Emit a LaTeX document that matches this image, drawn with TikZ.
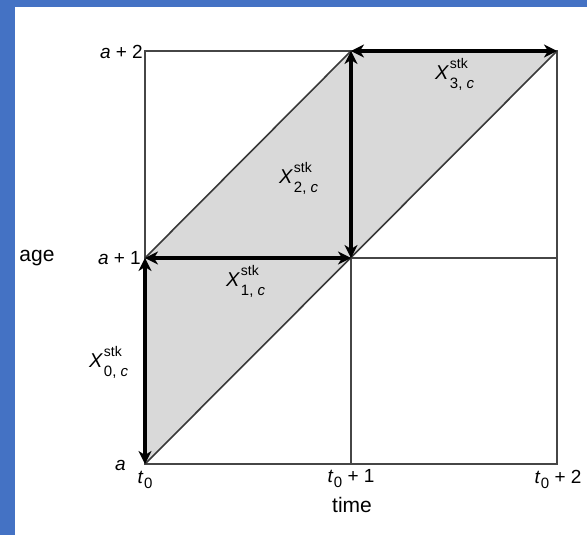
\documentclass[tikz,border=0pt]{standalone}
\usepackage{fontspec}
\setmainfont{Liberation Sans}
\usetikzlibrary{arrows.meta}
\definecolor{frameblue}{RGB}{68,114,196}
\definecolor{regiongray}{RGB}{217,217,217}
\definecolor{gridline}{RGB}{70,70,70}
\newcommand{\xstk}[1]{\textit{X}\kern0.8pt\rlap{\raisebox{11pt}{\fontsize{14}{14}\selectfont stk}}\raisebox{-9pt}{\fontsize{15}{15}\selectfont #1, \textit{c}}}
\newcommand{\tsub}[1]{\textit{t}\kern0.5pt\raisebox{-5pt}{\fontsize{15}{15}\selectfont #1}}
\begin{document}
\begin{tikzpicture}[x=1pt,y=-1pt,
  thin line/.style={draw=gridline,line width=1.8pt},
  diag line/.style={draw=gridline!80!black,line width=1.6pt},
  thick arrow/.style={draw=black,line width=3.2pt,{Stealth[length=13pt,width=13pt,inset=4pt]}-{Stealth[length=13pt,width=13pt,inset=4pt]}},
  lab/.style={font=\fontsize{19}{21}\selectfont,inner sep=0pt},
  word/.style={font=\fontsize{21}{23}\selectfont,inner sep=0pt},
  qty/.style={font=\fontsize{20}{22}\selectfont,inner sep=0pt,anchor=base west}]
\useasboundingbox (0,0) rectangle (587,535);
\fill[white] (0,0) rectangle (587,535);
\fill[frameblue] (0,0) rectangle (587,7);
\fill[frameblue] (0,0) rectangle (15,535);
% grid points
\coordinate (A0) at (145,464);
\coordinate (A1) at (145,258);
\coordinate (A2) at (145,51);
\coordinate (B0) at (351,464);
\coordinate (B1) at (351,258);
\coordinate (B2) at (351,51);
\coordinate (C0) at (557,464);
\coordinate (C1) at (557,258);
\coordinate (C2) at (557,51);
% shaded region
\fill[regiongray] (A0) -- (A1) -- (B2) -- (C2) -- cycle;
% grid
\draw[thin line] (A0) rectangle (C2);
\draw[thin line] (A1) -- (C1);
\draw[thin line] (B0) -- (B2);
% diagonals
\draw[diag line] (A0) -- (C2);
\draw[diag line] (A1) -- (B2);
% arrows
\draw[thick arrow] (A0) -- (A1);
\draw[thick arrow] (A1) -- (B1);
\draw[thick arrow] (B1) -- (B2);
\draw[thick arrow] (B2) -- (C2);
% axis labels
\node[lab,anchor=east] (la2) at (143,52) {\textit{a} + 2};
\node[lab,anchor=east] (la1) at (141,258) {\textit{a} + 1};
\node[lab,anchor=east] (la0) at (126,465) {\textit{a}};
\node[word] (age) at (37,258) {age};
\node[lab] (t0) at (145,480) {\tsub{0}};
\node[lab] (t1) at (351,479) {\tsub{0} + 1};
\node[lab] (t2) at (558,479) {\tsub{0} + 2};
\node[word,anchor=base] (time) at (352,512) {time};
% quantities
\node[qty] (x0) at (89,367) {\xstk{0}};
\node[qty] (x1) at (226,286) {\xstk{1}};
\node[qty] (x2) at (279,183) {\xstk{2}};
\node[qty] (x3) at (435,80) {\xstk{3}};
\end{tikzpicture}
\end{document}
